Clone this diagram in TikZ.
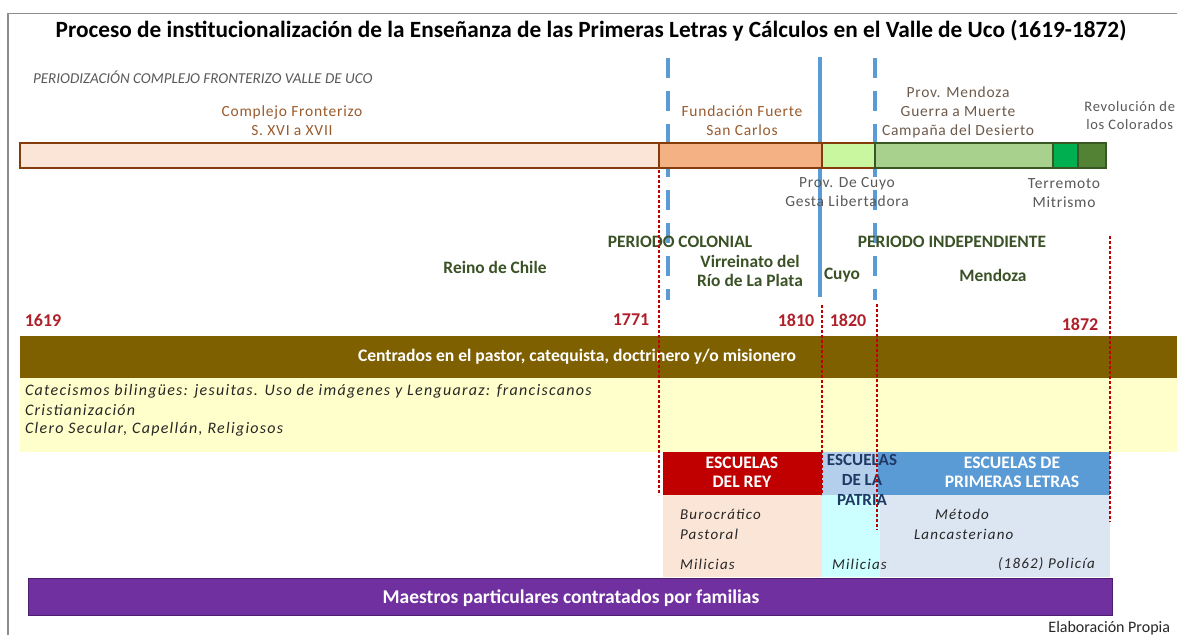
\documentclass[tikz,border=0pt]{standalone}
\usepackage{fontspec}
\setmainfont{Carlito}
\definecolor{frame}{HTML}{8C8C8C}
\definecolor{peach}{HTML}{FBE5D6}
\definecolor{brownb}{HTML}{843C0C}
\definecolor{orangeb}{HTML}{F4B183}
\definecolor{lgreen}{HTML}{C9F79F}
\definecolor{mgreen}{HTML}{A9D18E}
\definecolor{bgreen}{HTML}{00B050}
\definecolor{dgreen}{HTML}{548235}
\definecolor{greenb}{HTML}{385723}
\definecolor{blueline}{HTML}{5B9BD5}
\definecolor{dotred}{HTML}{C00000}
\definecolor{yearred}{HTML}{B0202A}
\definecolor{olive}{HTML}{7F6000}
\definecolor{paleyellow}{HTML}{FFFFCC}
\definecolor{redbox}{HTML}{C00000}
\definecolor{patriatop}{HTML}{B4CFEC}
\definecolor{bluebox}{HTML}{5B9BD5}
\definecolor{cyanbox}{HTML}{CCFFFF}
\definecolor{lbluebox}{HTML}{DCE6F2}
\definecolor{purpleb}{HTML}{7030A0}
\definecolor{purpleborder}{HTML}{4B1E6E}
\definecolor{txtgray}{HTML}{595959}
\definecolor{txtbrown}{HTML}{9A5B2E}
\definecolor{txtgb}{HTML}{6E5A4B}
\definecolor{txtgreen}{HTML}{3A5226}
\definecolor{txtdark}{HTML}{262626}
\definecolor{txtnavy}{HTML}{1F3864}
\begin{document}
\begin{tikzpicture}[x=1pt,y=-1pt,
  every node/.style={inner sep=0pt, outer sep=0pt},
  area/.style={rectangle, anchor=north west, draw=none},
  seg/.style={rectangle, anchor=north west, line width=2.4pt},
  lbl/.style={font=\fontsize{15.5}{19}\selectfont\addfontfeature{LetterSpace=5}, align=center},
  grn/.style={font=\fontsize{17.4}{19}\selectfont\bfseries, text=txtgreen, align=center},
  yr/.style={font=\fontsize{18}{18}\selectfont\bfseries, text=yearred},
  itl/.style={font=\fontsize{15}{16}\selectfont\itshape\addfontfeature{LetterSpace=8}, text=txtdark, anchor=west},
  itlb/.style={font=\fontsize{16}{16}\selectfont\itshape\addfontfeature{LetterSpace=8}, text=txtdark, anchor=west},
  wht/.style={font=\fontsize{17.6}{19}\selectfont\bfseries, text=white, align=center},
  bluedash/.style={blueline, line width=4pt, dash pattern=on 20pt off 13pt},
  reddot/.style={dotred, line width=2.6pt, dash pattern=on 2.6pt off 2.4pt}]
\useasboundingbox (0,0) rectangle (1177,635);
\fill[white] (0,0) rectangle (1177,635);
\draw[frame, line width=1.6pt] (8,635) -- (8,13.5) -- (1177,13.5);

% title
\node[font=\fontsize{23.3}{26}\selectfont\bfseries, text=black] (title) at (591,31) {Proceso de institucionalización de la Enseñanza de las Primeras Letras y Cálculos en el Valle de Uco (1619-1872)};
\node[font=\fontsize{15.1}{17}\selectfont\itshape, text=txtgray, anchor=west] (sub) at (33,77) {PERIODIZACIÓN COMPLEJO FRONTERIZO VALLE DE UCO};

% blue lines (behind bar)
\coordinate (b1t) at (668,58); \coordinate (b1b) at (668,300);
\coordinate (b2t) at (820,57); \coordinate (b2b) at (820,297);
\coordinate (b3t) at (875,58); \coordinate (b3b) at (875,300);
\draw[bluedash] (b1t) -- (b1b);
\draw[blueline, line width=4pt] (b2t) -- (b2b);
\draw[bluedash] (b3t) -- (b3b);

% timeline bar
\node[seg, draw=brownb, fill=peach, minimum width=639pt, minimum height=25pt] (s1) at (20,143) {};
\node[seg, draw=brownb, fill=orangeb, minimum width=163pt, minimum height=25pt] (s2) at (659,143) {};
\node[seg, draw=brownb, fill=lgreen, minimum width=53pt, minimum height=25pt] (s3) at (822,143) {};
\node[seg, draw=greenb, fill=mgreen, minimum width=178pt, minimum height=25pt] (s4) at (875,143) {};
\node[seg, draw=greenb, fill=bgreen, minimum width=25pt, minimum height=25pt] (s5) at (1053,143) {};
\node[seg, draw=greenb, fill=dgreen, minimum width=28pt, minimum height=25pt] (s6) at (1078,143) {};

% labels above/below bar
\node[lbl, text=txtbrown] (l1) at (292,121) {Complejo Fronterizo\\S. XVI a XVII};
\node[lbl, text=txtbrown] (l2) at (742,121) {Fundación Fuerte\\San Carlos};
\node[lbl, text=txtgb] (l3) at (958,112) {Prov. Mendoza\\Guerra a Muerte\\Campaña del Desierto};
\node[lbl, text=txtgray, font=\fontsize{14.5}{18}\selectfont\addfontfeature{LetterSpace=5}, anchor=east] (l4) at (1175,116) {Revolución de\\los Colorados};
\node[lbl, text=txtgray] (l5) at (847,192) {Prov. De Cuyo\\Gesta Libertadora};
\node[lbl, text=txtgray] (l6) at (1064,193) {Terremoto\\Mitrismo};

% periods
\node[grn] (pc) at (680,242) {PERIODO COLONIAL};
\node[grn] (pi) at (952,242) {PERIODO INDEPENDIENTE};
\node[grn] (rc) at (495,267) {Reino de Chile};
\node[grn] (vr) at (750,271) {Virreinato del\\Río de La Plata};
\node[grn] (cu) at (842,275) {Cuyo};
\node[grn] (me) at (993,275) {Mendoza};

% years
\node[yr] (y1) at (43,320) {1619};
\node[yr] (y2) at (631,320) {1771};
\node[yr] (y3) at (796,320) {1810};
\node[yr] (y4) at (848,320) {1820};
\node[yr] (y5) at (1080,324) {1872};

% bands
\node[area, fill=olive, minimum width=1157pt, minimum height=42pt] (band) at (20,336) {};
\node[wht] (bandt) at (577,357) {Centrados en el pastor, catequista, doctrinero y/o misionero};
\node[area, fill=paleyellow, minimum width=1157pt, minimum height=74pt] (yel) at (20,378) {};
\node[itlb] (i1) at (25,391) {Catecismos bilingües: jesuitas. Uso de imágenes y Lenguaraz: franciscanos};
\node[itlb] (i2) at (25,410) {Cristianización};
\node[itlb] (i3) at (25,429) {Clero Secular, Capellán, Religiosos};

% schools
\node[area, fill=peach, minimum width=159pt, minimum height=82pt] (rey2) at (663,495) {};
\node[area, fill=cyanbox, minimum width=58pt, minimum height=82pt] (pat2) at (822,495) {};
\node[area, fill=lbluebox, minimum width=230pt, minimum height=82pt] (pl2) at (880,495) {};
\node[area, fill=redbox, minimum width=159pt, minimum height=43pt] (rey) at (663,452) {};
\node[area, fill=patriatop, minimum width=56pt, minimum height=43pt] (pat) at (822,452) {};
\node[area, fill=bluebox, minimum width=232pt, minimum height=43pt] (pl) at (878,452) {};
\node[wht] (reyt) at (742,472) {ESCUELAS\\DEL REY};
\node[wht] (plt) at (1012,472) {ESCUELAS DE\\PRIMERAS LETRAS};
\node[font=\fontsize{17}{20}\selectfont\bfseries, text=txtnavy, align=center] (patt) at (862,480) {ESCUELAS\\DE LA\\PATRIA};
\node[itl] (t1) at (680,514) {Burocrático};
\node[itl] (t2) at (680,534) {Pastoral};
\node[itl] (t3) at (680,564) {Milicias};
\node[itl] (t4) at (832,564) {Milicias};
\node[itl] (t5) at (935,514) {Método};
\node[itl] (t6) at (914,534) {Lancasteriano};
\node[itl] (t7) at (998,564) {(1862) Policía};

% purple band
\node[area, fill=purpleb, draw=purpleborder, line width=1pt, minimum width=1084pt, minimum height=37pt] (pur) at (28,578) {};
\node[wht, font=\fontsize{19.5}{20}\selectfont\bfseries] (purt) at (571,598) {Maestros particulares contratados por familias};
\node[font=\fontsize{16}{16}\selectfont, text=txtdark, anchor=east] (src) at (1170,628) {Elaboración Propia};

% red dotted lines
\coordinate (r1t) at (659,170); \coordinate (r1b) at (659,495);
\coordinate (r2t) at (822,305); \coordinate (r2b) at (822,495);
\coordinate (r3t) at (877,304); \coordinate (r3b) at (877,530);
\coordinate (r4t) at (1110,236); \coordinate (r4b) at (1110,522);
\draw[reddot] (r1t) -- (r1b);
\draw[reddot] (r2t) -- (r2b);
\draw[reddot] (r3t) -- (r3b);
\draw[reddot] (r4t) -- (r4b);
\end{tikzpicture}
\end{document}
